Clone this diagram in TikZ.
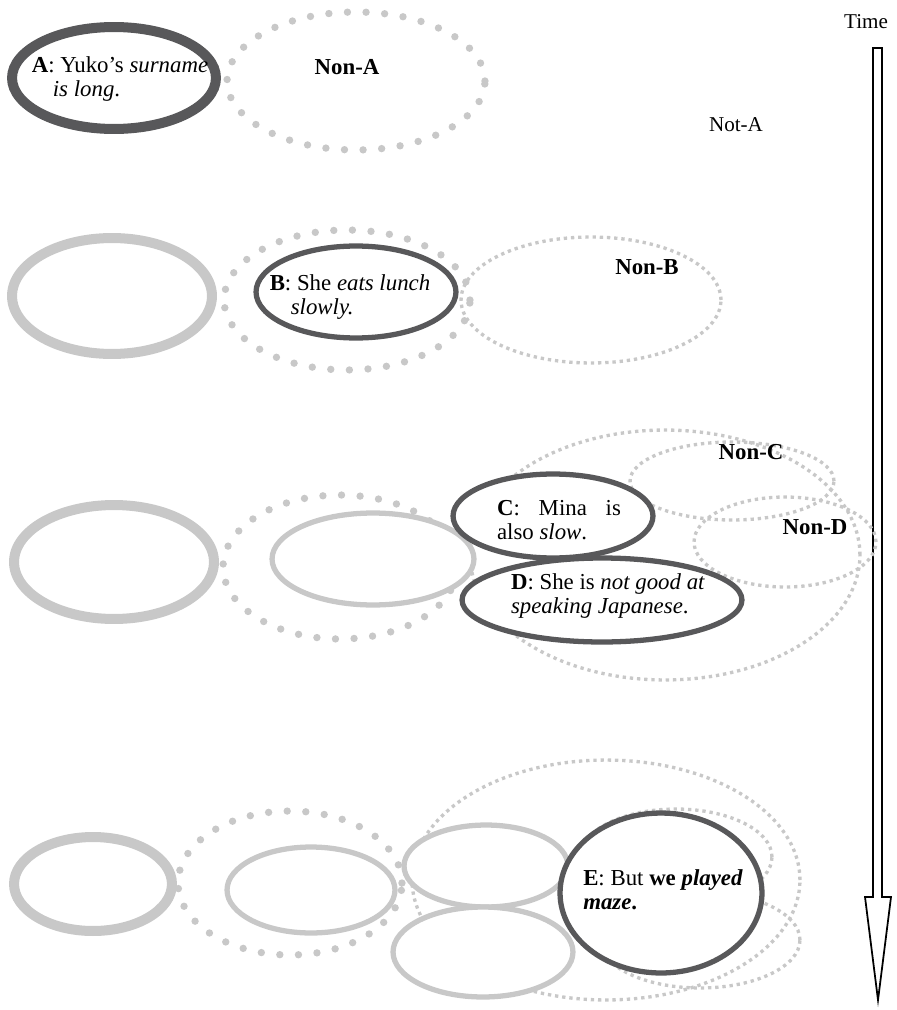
\documentclass[tikz,border=0pt]{standalone}
\usepackage{fontspec}
\setmainfont{Liberation Serif}
\usetikzlibrary{shapes.geometric}
\definecolor{darkline}{RGB}{88,88,90}
\definecolor{paleline}{RGB}{200,200,200}

\begin{document}
\begin{tikzpicture}[x=0.02cm, y=-0.02cm,
    every node/.style={font=\fontsize{13}{13.5}\selectfont, inner sep=0pt},
    oval/.style 2 args={ellipse, minimum width=#1*0.04cm, minimum height=#2*0.04cm},
    curr/.style={draw=darkline, line width=3pt, fill=white},
    currwide/.style={draw=darkline, line width=5.7pt, fill=white},
    prev/.style={draw=paleline, line width=3pt, fill=white},
    prevwide/.style={draw=paleline, line width=5.7pt, fill=white},
    ctx/.style={draw=paleline, line width=4.2pt, dash pattern=on 0pt off 10.6pt, line cap=round},
    non/.style={draw=paleline, line width=1.9pt, dash pattern=on 1.9pt off 2.2pt}]

    \useasboundingbox (0,0) rectangle (896,1010);

    % time axis
    \node[font=\fontsize{12}{13}\selectfont] (time) at (866,22) {Time};
    \draw[line width=1pt] (873,48) -- (882,48) -- (882,897) -- (891,897) -- (878,1000)
        -- (865,897) -- (873,897) -- cycle;
    \node[font=\fontsize{12}{13}\selectfont] (nota) at (736,125) {Not-A};

    % A
    \node[ctx, oval={129}{69}] (nona) at (356,81) {};
    \node[currwide, oval={102}{51}] (a) at (114,78) {};
    \node[align=left] (atext) at (120,79) {\textbf{A}: Yuko's \textit{surname}\\\hspace*{12pt}\textit{is long}.};
    \node (nonatext) at (347,67) {\textbf{Non-A}};

    % B
    \node[prevwide, oval={100}{58}] (a1) at (112,296) {};
    \node[ctx, oval={123}{70}] (nona1) at (347,300) {};
    \node[non, oval={130}{63}] (nonb) at (591,300) {};
    \node[curr, oval={100}{46}] (b) at (356,292) {};
    \node[align=left] (btext) at (350,297) {\textbf{B}: She \textit{eats lunch}\\\hspace*{12pt}\textit{slowly.}};
    \node (nonbtext) at (647,267) {\textbf{Non-B}};

    % C and D
    \node[prevwide, oval={100}{57}] (a2) at (114,562) {};
    \node[ctx, oval={117}{72}] (nona2) at (340,567) {};
    \node[non, oval={195}{125}] (nonb2) at (665,555) {};
    \node[non, oval={102}{39}] (nonc) at (732,481) {};
    \node[non, oval={91}{45}] (nond) at (785,542) {};
    \node[prev, oval={101}{46}] (b2) at (373,559) {};
    \node[curr, oval={100}{42}] (c) at (553,516) {};
    \node[curr, oval={140}{42}] (d) at (602,600) {};
    \node[align=left] (ctext) at (559,520) {\hbox to 70.5pt{\textbf{C}:\hfill Mina\hfill is}\\also \textit{slow}.};
    \node[align=left] (dtext) at (608,596) {\textbf{D}: She is \textit{not good at}\\\textit{speaking Japanese}.};
    \node (nonctext) at (751,452) {\textbf{Non-C}};
    \node (nondtext) at (815,527) {\textbf{Non-D}};

    % E
    \node[prevwide, oval={79}{47}] (a3) at (93,884) {};
    \node[ctx, oval={112}{72}] (nona3) at (290,883) {};
    \node[non, oval={194}{120}] (nonb3) at (606,880) {};
    \node[non, oval={96}{48}] (nonc3) at (676,857) {};
    \node[non, oval={100}{48}] (nond3) at (700,940) {};
    \node[prev, oval={84}{43}] (b3) at (311,890) {};
    \node[prev, oval={82}{41}] (c3) at (486,866) {};
    \node[prev, oval={90}{45}] (d3) at (483,952) {};
    \node[curr, oval={101}{80}] (e) at (661,893) {};
    \node[align=left] (etext) at (663,890) {\textbf{E}: But \textbf{we \textit{played}}\\\textbf{\textit{maze}.}};
\end{tikzpicture}
\end{document}
